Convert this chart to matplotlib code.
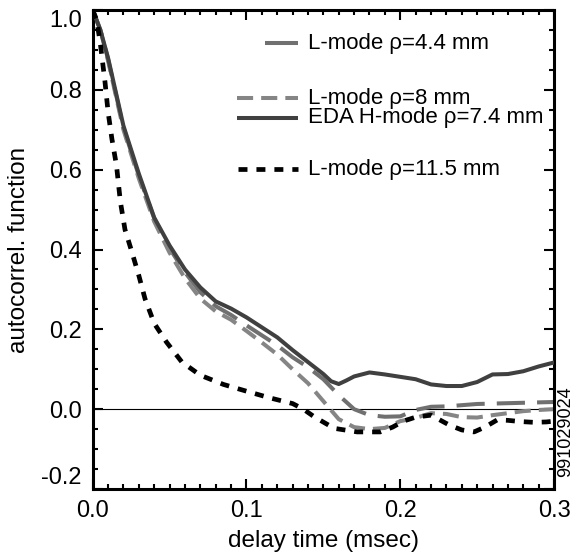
import matplotlib
matplotlib.use("Agg")
import matplotlib.pyplot as plt

plt.rcParams['font.family'] = ['Liberation Sans', 'DejaVu Sans']

# L-mode rho=4.4 mm
x_l44 = [0, 0.005, 0.01, 0.02, 0.03, 0.04, 0.05, 0.06, 0.07, 0.08, 0.09, 0.1, 0.11, 0.12,
         0.13, 0.14, 0.15, 0.16, 0.17, 0.18, 0.19, 0.2, 0.21, 0.22, 0.23, 0.24, 0.25, 0.26,
         0.27, 0.28, 0.29, 0.3]
y_l44 = [1.0, 0.95, 0.877, 0.705, 0.585, 0.478, 0.403, 0.343, 0.293, 0.258, 0.236, 0.21,
         0.185, 0.16, 0.13, 0.105, 0.075, 0.035, 0.0, -0.015, -0.019, -0.018, -0.002, 0.006,
         0.007, 0.01, 0.013, 0.014, 0.015, 0.016, 0.017, 0.018]

# L-mode rho=8 mm
x_l8 = x_l44
y_l8 = [1.0, 0.95, 0.873, 0.70, 0.578, 0.47, 0.392, 0.328, 0.277, 0.245, 0.224, 0.196,
        0.167, 0.137, 0.10, 0.065, 0.02, -0.025, -0.045, -0.05, -0.047, -0.03, -0.022, -0.01,
        -0.012, -0.02, -0.021, -0.015, -0.01, -0.005, -0.002, 0.0]

# EDA H-mode rho=7.4 mm
x_eda = [0, 0.005, 0.01, 0.02, 0.03, 0.04, 0.05, 0.06, 0.07, 0.08, 0.09, 0.1, 0.11, 0.12,
         0.13, 0.14, 0.15, 0.155, 0.16, 0.165, 0.17, 0.18, 0.19, 0.2, 0.21, 0.22, 0.23, 0.24,
         0.25, 0.26, 0.27, 0.28, 0.29, 0.3]
y_eda = [1.0, 0.95, 0.88, 0.71, 0.59, 0.48, 0.41, 0.35, 0.305, 0.27, 0.252, 0.23, 0.205,
         0.18, 0.148, 0.118, 0.088, 0.07, 0.063, 0.072, 0.082, 0.092, 0.087, 0.081, 0.075,
         0.062, 0.058, 0.058, 0.068, 0.087, 0.088, 0.095, 0.107, 0.117]

# L-mode rho=11.5 mm
x_l115 = [0, 0.0026, 0.005, 0.008, 0.01, 0.0125, 0.0155, 0.018, 0.021, 0.025, 0.03, 0.034,
          0.04, 0.048, 0.058, 0.07, 0.085, 0.1, 0.115, 0.13, 0.137, 0.144, 0.157, 0.172,
          0.187, 0.195, 0.202, 0.21, 0.22, 0.232, 0.24, 0.248, 0.255, 0.263, 0.27, 0.278,
          0.287, 0.295, 0.3]
y_l115 = [1.0, 0.975, 0.915, 0.82, 0.745, 0.677, 0.61, 0.52, 0.45, 0.40, 0.335, 0.277,
          0.215, 0.168, 0.118, 0.085, 0.062, 0.045, 0.0285, 0.014, 0.0, -0.019, -0.048,
          -0.057, -0.057, -0.045, -0.03, -0.02, -0.015, -0.04, -0.052, -0.057, -0.045,
          -0.027, -0.028, -0.031, -0.033, -0.032, -0.03]

labels = ['L-mode \u03c1=4.4 mm', 'L-mode \u03c1=8 mm', 'EDA H-mode \u03c1=7.4 mm',
          'L-mode \u03c1=11.5 mm']

fig = plt.figure(figsize=(5.84, 5.56), dpi=100)
ax = fig.add_axes([0.1587, 0.1205, 0.79, 0.8615])

ax.axhline(0, color='black', lw=0.8, zorder=1)
ax.plot(x_l44, y_l44, color='#707070', lw=2.9, ls=(0, (7, 3)), zorder=2)
ax.plot(x_l8, y_l8, color='#858585', lw=2.9, ls=(0, (4, 2)), zorder=2)
ax.plot(x_eda, y_eda, color='#404040', lw=2.9, zorder=3)
ax.plot(x_l115, y_l115, color='black', lw=3.4, ls=(0, (1.9, 1.9)), zorder=4)

# legend keys placed by hand (irregular spacing as in the original)
keys = [
    (0.374, 0.931, '#707070', '-', 2.9),
    (0.313, 0.816, '#858585', (0, (4, 2)), 2.9),
    (0.313, 0.775, '#404040', '-', 2.9),
    (0.315, 0.668, 'black', (0, (1.9, 1.9)), 3.4),
]
for (x0, yk, c, ls, lw), lab in zip(keys, labels):
    ax.plot([x0, 0.445], [yk, yk], transform=ax.transAxes, color=c, ls=ls, lw=lw,
            solid_capstyle='butt', dash_capstyle='butt')
    ax.text(0.466, yk, lab, transform=ax.transAxes, fontsize=16, va='center', ha='left')

ax.set_xlim(0, 0.3)
ax.set_ylim(-0.2, 1.0)
ax.set_xticks([0, 0.1, 0.2, 0.3])
ax.set_xticklabels(['0.0', '0.1', '0.2', '0.3'])
ax.set_yticks([-0.2, 0, 0.2, 0.4, 0.6, 0.8, 1.0])
ax.set_yticklabels(['-0.2', '0.0', '0.2', '0.4', '0.6', '0.8', '1.0'])
ax.set_xticks([i * 0.01 for i in range(31)], minor=True)
ax.set_yticks([-0.2 + i * 0.05 for i in range(25)], minor=True)
ytl = ax.get_yticklabels()
ytl[0].set_va('bottom')
ytl[-1].set_va('top')

ax.tick_params(which='both', direction='in', top=True, right=True, labelsize=17, width=1.5)
ax.tick_params(which='major', length=7, pad=8)
ax.tick_params(which='minor', length=3.5)
for s in ax.spines.values():
    s.set_linewidth(2.2)

ax.set_xlabel('delay time (msec)', fontsize=17.5, labelpad=6)
ax.set_ylabel('autocorrel. function', fontsize=17.5, labelpad=8)

fig.text(0.968, 0.223, '991029024', rotation=90, fontsize=13, ha='center', va='center')

fig.savefig('out.png', dpi=100)
